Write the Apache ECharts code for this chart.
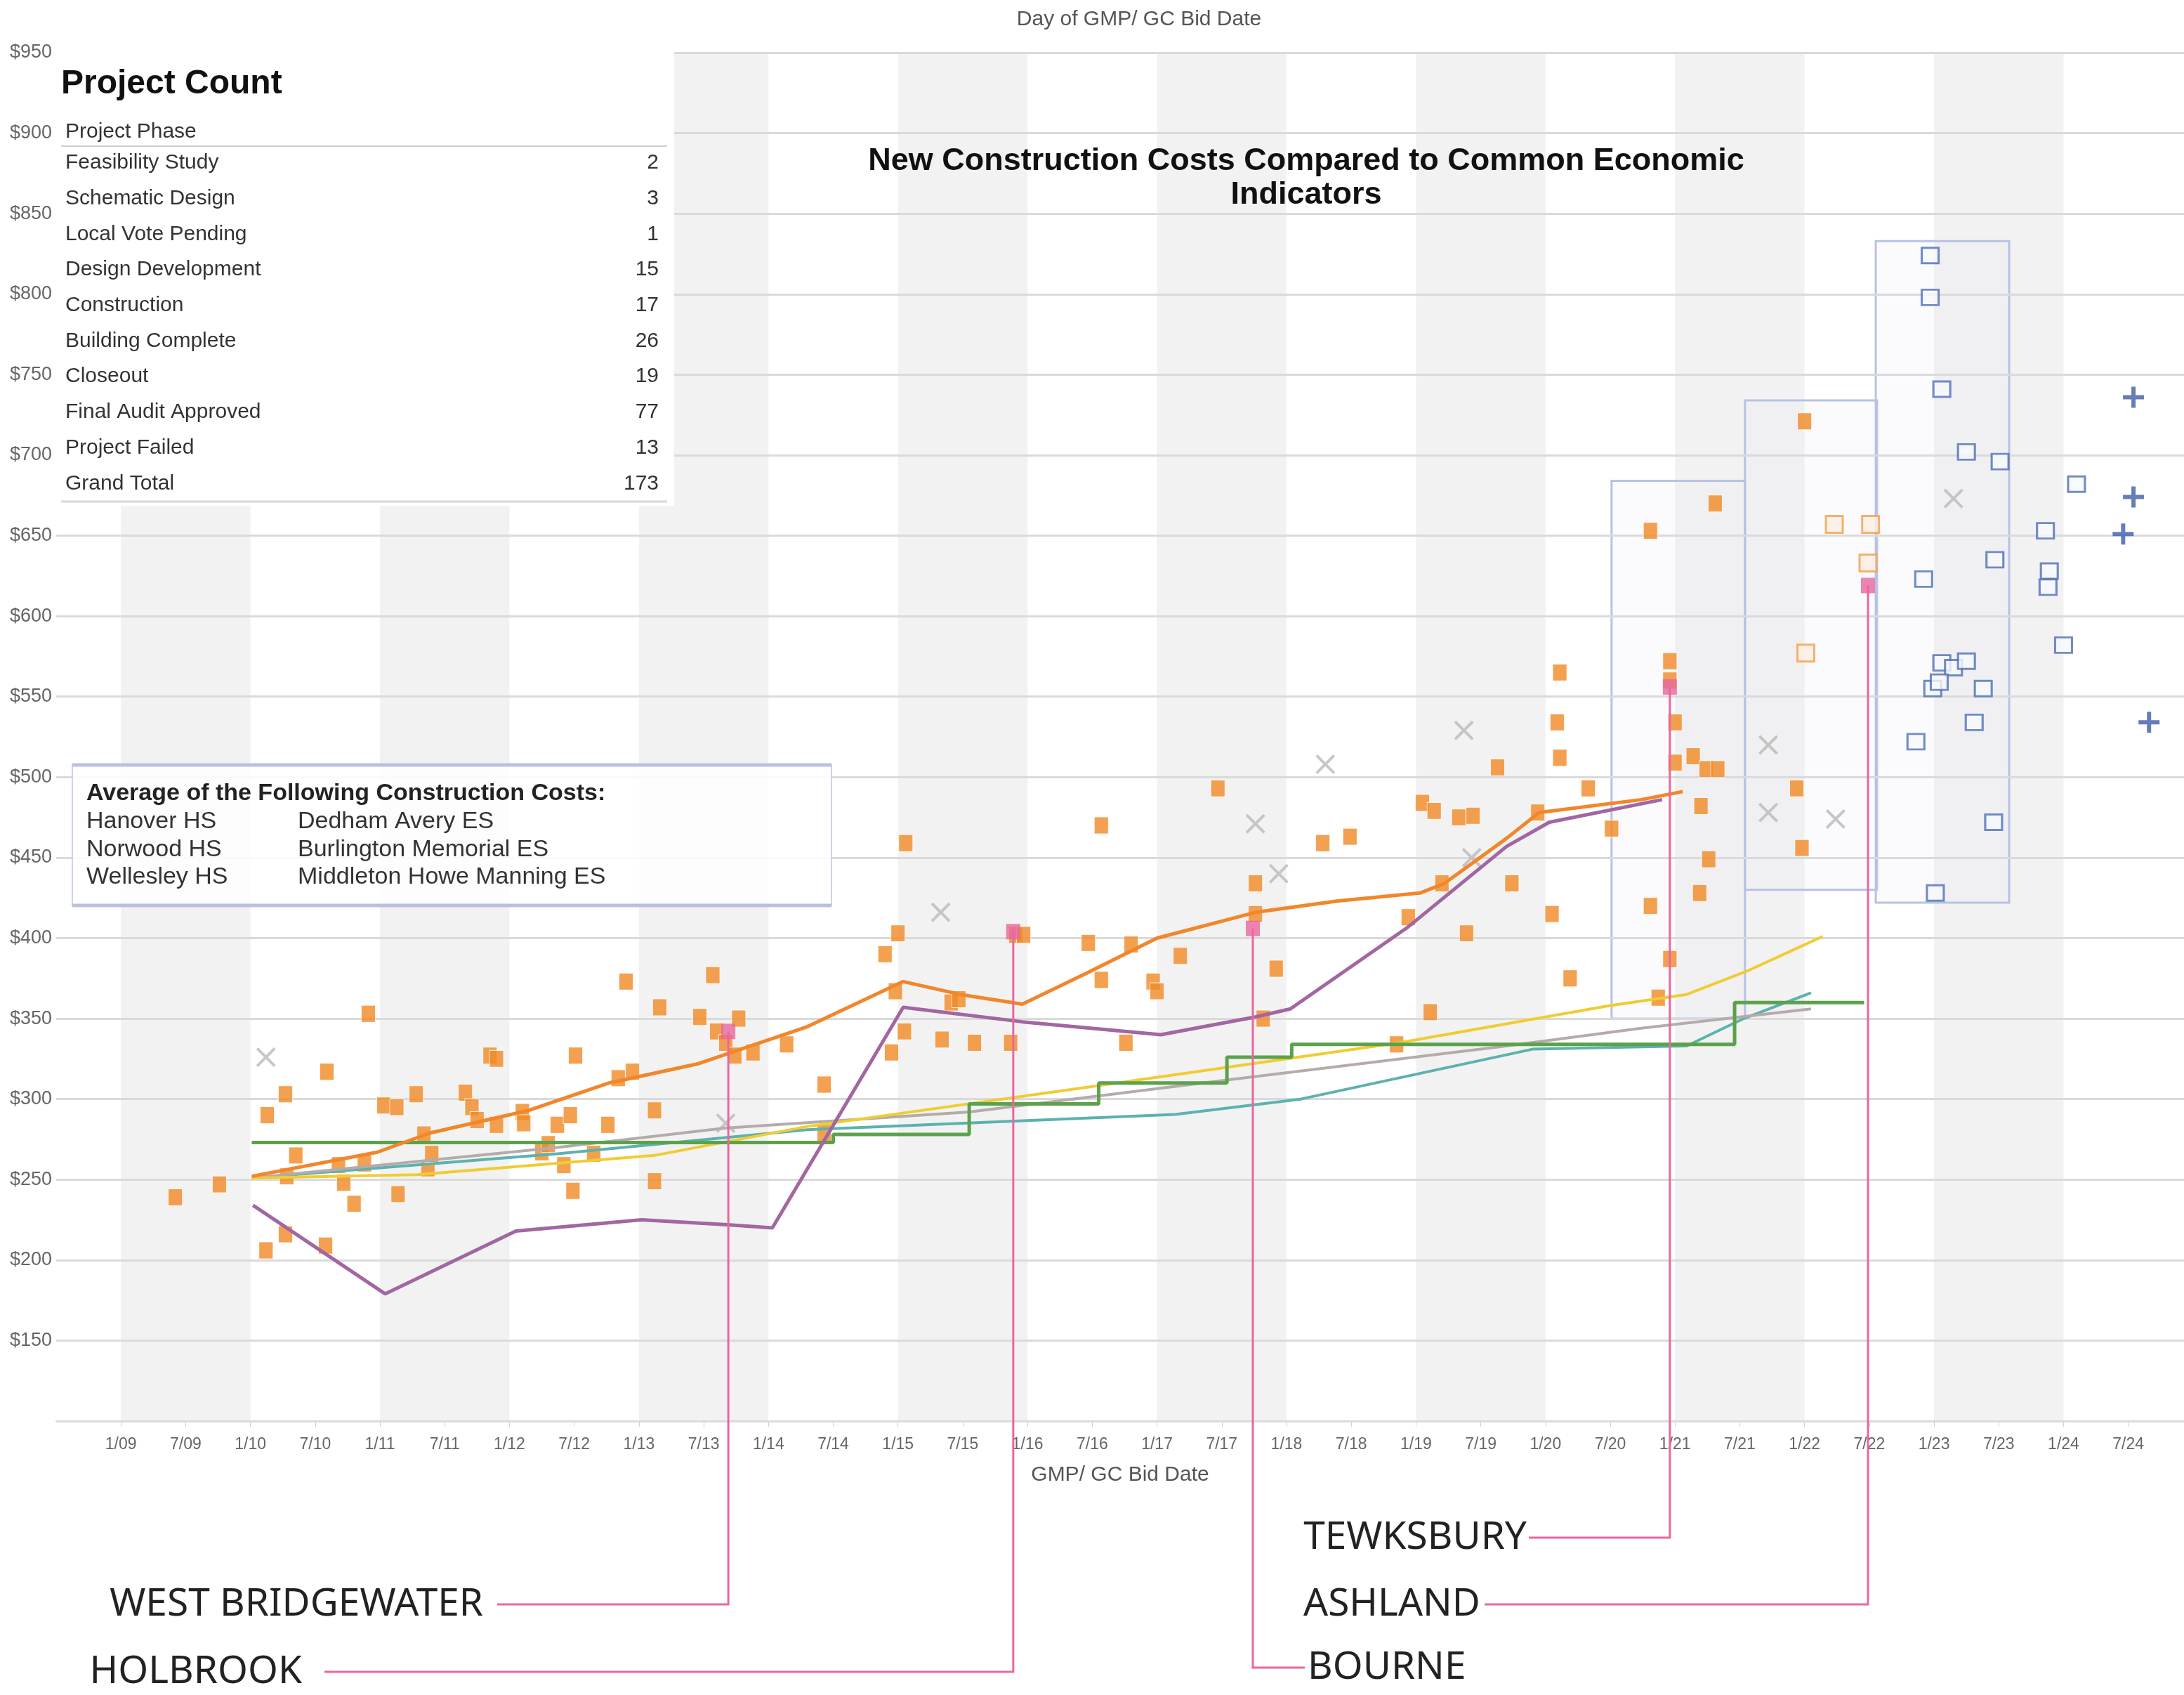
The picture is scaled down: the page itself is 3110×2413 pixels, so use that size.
<!DOCTYPE html>
<html>
<head>
<meta charset="utf-8">
<script src="https://cdn.jsdelivr.net/npm/echarts@6/dist/echarts.min.js"></script>
<style>
html,body{margin:0;padding:0;background:#fff;}
#main{width:3110px;height:2413px;}
</style>
</head>
<body>
<div id="main"></div>
<script>
// new construction projects: GMP/GC bid date (decimal year) and cost ($/sf)
const projDate = [2009.42,2009.76,2010.12,2010.13,2010.27,2010.27,2010.35,2010.28,2010.58,2010.59,
  2010.68,2010.72,2010.80,2010.88,2010.91,2011.03,2011.13,2011.14,2011.28,2011.34,
  2011.37,2011.40,2011.66,2011.71,2011.75,2011.85,2011.90,2011.90,2012.10,2012.11,
  2012.25,2012.30,2012.37,2012.42,2012.47,2012.49,2012.51,2012.65,2012.76,2012.84,
  2012.95,2013.12,2013.12,2012.90,2013.16,2013.47,2013.57,2013.60,2013.67,2013.77,
  2013.74,2013.88,2014.14,2014.43,2014.43,2014.90,2015.00,2015.06,2014.98,2014.95,
  2015.05,2015.41,2015.47,2015.34,2015.59,2015.87,2015.91,2015.97,2016.47,2016.57,
  2016.57,2016.76,2016.80,2016.97,2017.00,2017.18,2017.47,2017.76,2017.76,2017.82,
  2017.92,2018.28,2018.49,2018.85,2018.94,2019.05,2019.11,2019.14,2019.20,2019.33,
  2019.44,2019.39,2019.63,2019.74,2019.94,2020.05,2020.09,2020.11,2020.11,2020.19,
  2020.33,2020.51,2020.81,2020.87,2020.81,2020.96,2020.96,2021.00,2020.96,2021.00,
  2021.14,2021.20,2021.26,2021.19,2021.24,2021.33,2021.31,2022.00,2021.94,2021.98];
const projCost = [239,247,206,290,303,216,265,252,209,317,
  259,248,235,260,353,296,295,241,303,278,
  257,266,304,295,287,327,325,284,292,285,
  267,272,284,259,290,243,327,266,284,313,
  317,249,293,373,357,351,377,342,335,350,
  327,329,334,309,279,390,403,459,367,329,
  342,360,362,337,335,335,402,402,397,470,
  374,335,396,373,367,389,493,434,415,350,
  381,459,463,334,413,484,354,479,434,475,
  476,403,506,434,478,415,534,565,512,375,
  493,468,653,363,420,572,560,534,387,509,
  513,482,449,428,505,505,670,721,493,456];

// bids (hollow orange)
const bidDate = [2022.01,2022.23,2022.51,2022.49];
const bidCost = [577,657,657,633];

// failed projects (x)
const failDate = [2010.12,2015.33,2017.76,2018.30,2019.37,2021.72,2021.72,2022.24,2023.15,2013.67,2017.94,2019.43];
const failCost = [326,416,471,508,529,520,478,474,673,285,440,450];

// estimates (hollow blue)
const estDate = [2022.97,2022.97,2023.06,2023.25,2023.51,2022.92,2023.47,2023.06,2023.15,2023.25,2022.99,2023.04,2023.38,2023.31,2022.86,2023.46,2023.01,2023.86,2024.10,2023.89,2023.88,2024.00];
const estCost = [824,798,741,702,696,623,635,571,568,572,555,559,555,534,522,472,428,653,682,628,618,582];

// future estimates (+)
const futDate = [2024.54,2024.54,2024.46,2024.66];
const futCost = [736,674,651,534];

// average of construction costs (orange line)
const avgDate = [2010.01,2010.98,2011.39,2012.15,2012.77,2013.46,2014.30,2015.04,2015.48,2015.96,2016.45,2017.00,2017.76,2018.39,2019.03,2019.22,2019.70,2019.95,2020.74,2021.06];
const avgCost = [252,267,279,293,310,322,345,373,365,359,378,400,416,423,428,434,462,478,486,491];

// indicator lines
const purpleDate = [2010.02,2011.04,2012.05,2013.02,2013.68,2014.03,2015.04,2015.96,2017.03,2017.76,2018.03,2018.94,2019.70,2020.03,2020.90];
const purpleCost = [234,179,218,225,222,220,357,348,340,351,356,407,457,472,486];
const greenDate = [2010.01,2014.50,2015.55,2016.55,2017.54,2018.04,2021.46,2022.46];
const greenCost = [273,278,297,310,326,334,360,360];
const yellowDate = [2010.01,2011.29,2013.12,2014.30,2016.52,2018.87,2020.49,2021.09,2021.57,2022.14];
const yellowCost = [251,253,265,283,308,335,358,365,380,401];
const grayDate = [2010.01,2012.37,2013.66,2015.55,2017.55,2019.70,2020.74,2022.05];
const grayCost = [251,270,282,292,312,333,344,356];
const tealDate = [2010.01,2012.37,2014.30,2017.14,2018.11,2019.90,2021.09,2021.53,2022.05];
const tealCost = [251,266,281,290.5,300,331,333,350,366];

// highlighted projects
const calloutName = ['WEST BRIDGEWATER','HOLBROOK','BOURNE','TEWKSBURY','ASHLAND'];
const calloutDate = [2013.69,2015.89,2017.74,2020.96,2022.49];
const calloutCost = [342,404,406,556,619];

// grouping boxes [date0, cost0, date1, cost1]
const boxes = [[2020.51,684,2021.54,350],[2021.54,734,2022.56,430],[2022.55,833,2023.58,422]];

const bandYears = [2009,2011,2013,2015,2017,2019,2021,2023];

const phaseNames = ['Feasibility Study','Schematic Design','Local Vote Pending','Design Development','Construction','Building Complete','Closeout','Final Audit Approved','Project Failed','Grand Total'];
const phaseCounts = [2,3,1,15,17,26,19,77,13,173];

const avgCol1 = ['Hanover HS','Norwood HS','Wellesley HS'];
const avgCol2 = ['Dedham Avery ES','Burlington Memorial ES','Middleton Howe Manning ES'];

const zip = (a, b) => a.map((x, i) => [x, b[i]]);
const pink = '#e8679f';
const xPath = 'path://M0,1L1,0L5,4L9,0L10,1L6,5L10,9L9,10L5,6L1,10L0,9L4,5Z';
const plusPath = 'path://M4,0H6V4H10V6H6V10H4V6H0V4H4Z';
const font = '"Liberation Sans"';

const chart = echarts.init(document.getElementById('main'));

function lineSeries(d, c, color, w, extra) {
  return Object.assign({type: 'line', data: zip(d, c), symbol: 'none', z: 12,
    lineStyle: {color: color, width: w}}, extra || {});
}

chart.setOption({
  animation: false,
  backgroundColor: '#fff',
  grid: {left: 80, right: 0, top: 75, bottom: 390, outerBoundsMode: 'none'},
  xAxis: {
    type: 'value', min: 2008.5, max: 2024.93, interval: 0.5,
    name: 'GMP/ GC Bid Date', nameLocation: 'middle', nameGap: 62,
    nameTextStyle: {fontSize: 30, color: '#555', fontFamily: 'Liberation Sans'},
    axisLine: {lineStyle: {color: '#cfcfcf', width: 2}},
    axisTick: {show: true, length: 8, lineStyle: {color: '#cfcfcf'}},
    splitLine: {show: false},
    axisLabel: {
      fontSize: 23, color: '#666', margin: 22, fontFamily: 'Liberation Sans',
      showMinLabel: false, showMaxLabel: false,
      formatter: function (v) {
        const h = Math.round(v * 2) / 2;
        if (Math.abs(h - v) > 0.01) return '';
        const yr = Math.floor(h);
        const yy = String(yr % 100).padStart(2, '0');
        return (h - yr > 0.25 ? '7/' : '1/') + yy;
      }
    }
  },
  yAxis: {
    type: 'value', min: 100, max: 950, interval: 50, z: 3,
    axisLine: {show: false}, axisTick: {show: false},
    splitLine: {lineStyle: {color: '#dadada', width: 3}},
    axisLabel: {fontSize: 27, color: '#666', margin: 6, fontFamily: 'Liberation Sans',
      showMinLabel: false, formatter: v => '$' + v}
  },
  series: [
    {type: 'line', data: [], z: 1, silent: true,
      markArea: {silent: true, itemStyle: {color: '#f2f2f2'},
        data: bandYears.map(y => [{xAxis: y}, {xAxis: y + 1}])}},
    {type: 'scatter', data: zip(projDate, projCost), symbol: 'rect', symbolSize: [20, 24], z: 8,
      itemStyle: {color: '#f08a24', borderColor: '#fff', borderWidth: 1}},
    {type: 'scatter', data: zip(bidDate, bidCost), symbol: 'rect', symbolSize: [24, 24], z: 8,
      itemStyle: {color: '#fbefe2', borderColor: '#f2a04a', borderWidth: 3}},
    {type: 'scatter', data: zip(failDate, failCost), symbol: xPath, symbolSize: 28, z: 8,
      itemStyle: {color: '#b9b9b9'}},
    {type: 'scatter', data: zip(estDate, estCost), symbol: 'rect', symbolSize: [24, 22], z: 8,
      itemStyle: {color: '#f7f9fd', borderColor: '#4f6fb5', borderWidth: 3},
      markArea: {silent: true,
        itemStyle: {color: 'rgba(225,230,245,0.15)', borderColor: '#b7c2e3', borderWidth: 3},
        data: boxes.map(b => [{xAxis: b[0], yAxis: b[1]}, {xAxis: b[2], yAxis: b[3]}])}},
    {type: 'scatter', data: zip(futDate, futCost), symbol: plusPath, symbolSize: 30, z: 8,
      itemStyle: {color: '#3f5ea8'}},
    lineSeries(tealDate, tealCost, '#5cb2ae', 4),
    lineSeries(grayDate, grayCost, '#b5abab', 4),
    lineSeries(yellowDate, yellowCost, '#f0cc33', 4),
    lineSeries(greenDate, greenCost, '#5ca24c', 5, {step: 'end'}),
    lineSeries(purpleDate, purpleCost, '#a266a2', 5),
    lineSeries(avgDate, avgCost, '#f2862a', 5),
    {type: 'scatter', data: zip(calloutDate, calloutCost), symbol: 'rect', symbolSize: [20, 22], z: 20,
      itemStyle: {color: pink}}
  ]
});

// callout routing below the plot (pixel layout)
const calloutLayout = [
  {y: 2284, x2: 708, tx: 688, align: 'right'},
  {y: 2380, x2: 462, tx: 430, align: 'right'},
  {y: 2374, x2: 1858, tx: 1862, align: 'left'},
  {y: 2189, x2: 2177, tx: 2174, align: 'right'},
  {y: 2284, x2: 2114, tx: 2108, align: 'right'}
];

const els = [];
calloutName.forEach((n, i) => {
  const p = chart.convertToPixel({gridIndex: 0}, [calloutDate[i], calloutCost[i]]);
  const L = calloutLayout[i];
  els.push({type: 'polyline', z: 30, silent: true,
    shape: {points: [[p[0], p[1]], [p[0], L.y], [L.x2, L.y]]},
    style: {stroke: pink, lineWidth: 3, fill: null}});
  els.push({type: 'text', z: 30, x: L.tx, y: L.y,
    style: {text: n, font: '55px "Noto Sans"', fill: '#222', align: L.align, verticalAlign: 'middle'}});
});

// titles
els.push({type: 'text', z: 30, x: 1622, y: 28,
  style: {text: 'Day of GMP/ GC Bid Date', font: '30px ' + font, fill: '#555', align: 'center', verticalAlign: 'middle'}});
els.push({type: 'text', z: 30, x: 1860, y: 230,
  style: {text: 'New Construction Costs Compared to Common Economic', font: 'bold 45px ' + font, fill: '#111', align: 'center', verticalAlign: 'middle'}});
els.push({type: 'text', z: 30, x: 1860, y: 278,
  style: {text: 'Indicators', font: 'bold 45px ' + font, fill: '#111', align: 'center', verticalAlign: 'middle'}});

// project count table
els.push({type: 'rect', z: 40, shape: {x: 80, y: 60, width: 880, height: 660}, style: {fill: '#fff'}});
els.push({type: 'text', z: 41, x: 87, y: 120,
  style: {text: 'Project Count', font: 'bold 48px ' + font, fill: '#111', verticalAlign: 'middle'}});
els.push({type: 'text', z: 41, x: 93, y: 188,
  style: {text: 'Project Phase', font: '30px ' + font, fill: '#333', verticalAlign: 'middle'}});
els.push({type: 'line', z: 41, shape: {x1: 87, y1: 208, x2: 950, y2: 208}, style: {stroke: '#cfcfcf', lineWidth: 2}});
els.push({type: 'line', z: 41, shape: {x1: 87, y1: 714, x2: 950, y2: 714}, style: {stroke: '#d8d8d8', lineWidth: 3}});
phaseNames.forEach((n, i) => {
  const y = 232 + i * 50.7;
  els.push({type: 'text', z: 41, x: 93, y: y,
    style: {text: n, font: '30px ' + font, fill: '#333', verticalAlign: 'middle'}});
  els.push({type: 'text', z: 41, x: 938, y: y,
    style: {text: String(phaseCounts[i]), font: '30px ' + font, fill: '#333', align: 'right', verticalAlign: 'middle'}});
});

// average box
els.push({type: 'rect', z: 40, shape: {x: 103, y: 1089, width: 1081, height: 200},
  style: {fill: 'rgba(255,255,255,0.85)', stroke: '#cdd2ea', lineWidth: 2}});
els.push({type: 'line', z: 41, shape: {x1: 103, y1: 1089, x2: 1184, y2: 1089}, style: {stroke: '#b9c0e3', lineWidth: 5}});
els.push({type: 'line', z: 41, shape: {x1: 103, y1: 1289, x2: 1184, y2: 1289}, style: {stroke: '#b9c0e3', lineWidth: 5}});
els.push({type: 'text', z: 41, x: 123, y: 1130,
  style: {text: 'Average of the Following Construction Costs:', font: 'bold 34px ' + font, fill: '#222', verticalAlign: 'middle'}});
avgCol1.forEach((t, i) => {
  const y = 1170 + i * 39.5;
  els.push({type: 'text', z: 41, x: 123, y: y,
    style: {text: t, font: '34px ' + font, fill: '#333', verticalAlign: 'middle'}});
  els.push({type: 'text', z: 41, x: 424, y: y,
    style: {text: avgCol2[i], font: '34px ' + font, fill: '#333', verticalAlign: 'middle'}});
});

chart.setOption({graphic: els});
</script>
</body>
</html>
